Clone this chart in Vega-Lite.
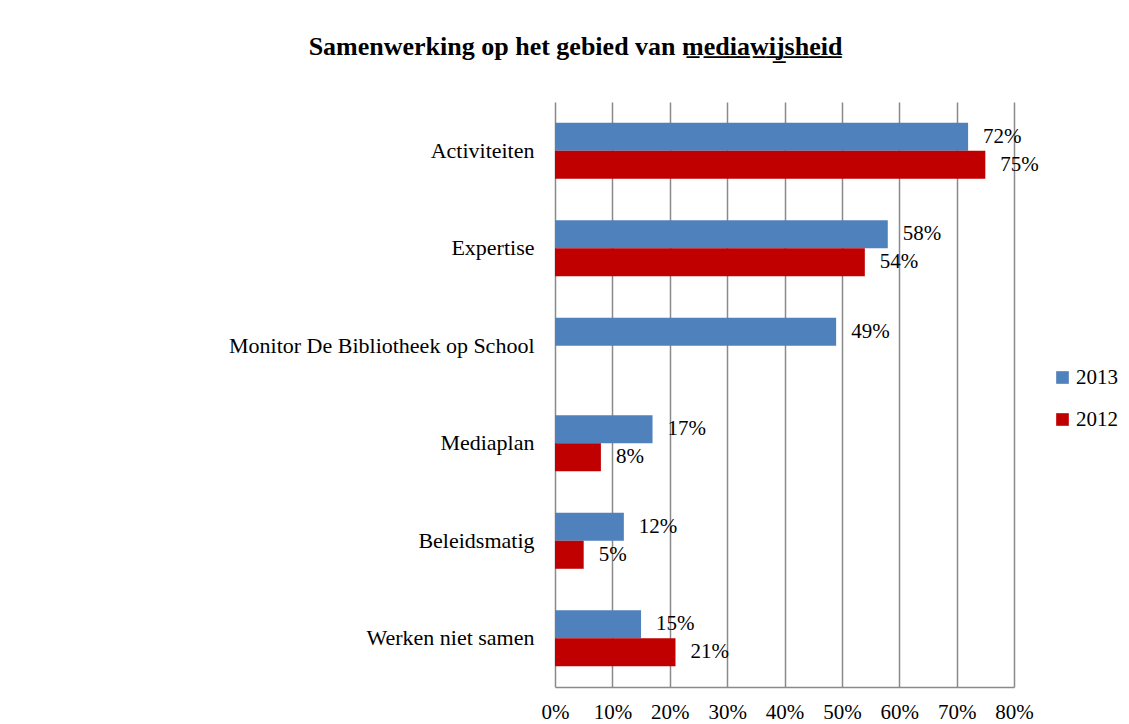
{
  "$schema": "https://vega.github.io/schema/vega-lite/v6.json",
  "autosize": {"type": "none"},
  "width": 459,
  "height": 585,
  "padding": {"left": 555, "top": 102, "right": 115, "bottom": 37},
  "background": "white",
  "title": {
    "text": "Samenwerking op het gebied van m\u0332e\u0332d\u0332i\u0332a\u0332w\u0332i\u0332j\u0332s\u0332h\u0332e\u0332i\u0332d\u0332",
    "font": "Liberation Serif",
    "fontSize": 26,
    "fontWeight": "bold",
    "color": "black",
    "anchor": "middle",
    "frame": "group",
    "dx": -209,
    "baseline": "alphabetic",
    "offset": 21
  },
  "data": {
    "values": [
      {"cat": "Activiteiten", "year": "2013", "value": 0.72},
      {"cat": "Activiteiten", "year": "2012", "value": 0.75},
      {"cat": "Expertise", "year": "2013", "value": 0.58},
      {"cat": "Expertise", "year": "2012", "value": 0.54},
      {"cat": "Monitor De Bibliotheek op School", "year": "2013", "value": 0.49},
      {"cat": "Mediaplan", "year": "2013", "value": 0.17},
      {"cat": "Mediaplan", "year": "2012", "value": 0.08},
      {"cat": "Beleidsmatig", "year": "2013", "value": 0.12},
      {"cat": "Beleidsmatig", "year": "2012", "value": 0.05},
      {"cat": "Werken niet samen", "year": "2013", "value": 0.15},
      {"cat": "Werken niet samen", "year": "2012", "value": 0.21}
    ]
  },
  "encoding": {
    "y": {
      "field": "cat",
      "type": "nominal",
      "sort": ["Activiteiten", "Expertise", "Monitor De Bibliotheek op School", "Mediaplan", "Beleidsmatig", "Werken niet samen"],
      "scale": {"paddingInner": 0.425, "paddingOuter": 0.2125},
      "axis": {
        "title": null,
        "ticks": false,
        "domain": false,
        "labelPadding": 21,
        "labelFont": "Liberation Serif",
        "labelFontSize": 22,
        "labelColor": "black",
        "labelLimit": 500
      }
    },
    "yOffset": {"field": "year", "type": "nominal", "sort": ["2013", "2012"], "scale": {"domain": ["2013", "2012"]}},
    "x": {
      "field": "value",
      "type": "quantitative",
      "scale": {"domain": [0, 0.8], "nice": false},
      "axis": {
        "title": null,
        "values": [0, 0.1, 0.2, 0.3, 0.4, 0.5, 0.6, 0.7, 0.8],
        "format": ".0%",
        "grid": true,
        "gridColor": "#8a8a8a",
        "gridWidth": 1.5,
        "gridOpacity": 1,
        "domainColor": "#8a8a8a",
        "domainWidth": 1.5,
        "ticks": false,
        "labelPadding": 14,
        "labelFont": "Liberation Serif",
        "labelFontSize": 21,
        "labelColor": "black",
        "labelFlush": false
      }
    }
  },
  "layer": [
    {
      "mark": {"type": "bar"},
      "encoding": {
        "color": {
          "field": "year",
          "type": "nominal",
          "scale": {"domain": ["2013", "2012"], "range": ["#4F81BD", "#C00000"]},
          "legend": {
            "title": null,
            "orient": "none",
            "legendX": 497,
            "legendY": 265,
            "symbolType": "square",
            "symbolSize": 160,
            "symbolStrokeWidth": 0,
            "symbolOpacity": 1,
            "rowPadding": 20,
            "labelFont": "Liberation Serif",
            "labelFontSize": 21,
            "labelColor": "black",
            "labelOffset": 3
          }
        }
      }
    },
    {
      "mark": {"type": "text", "align": "left", "baseline": "middle", "dx": 15, "font": "Liberation Serif", "fontSize": 21, "color": "black"},
      "encoding": {
        "text": {"field": "value", "type": "quantitative", "format": ".0%"}
      }
    }
  ],
  "config": {"view": {"stroke": null}}
}
